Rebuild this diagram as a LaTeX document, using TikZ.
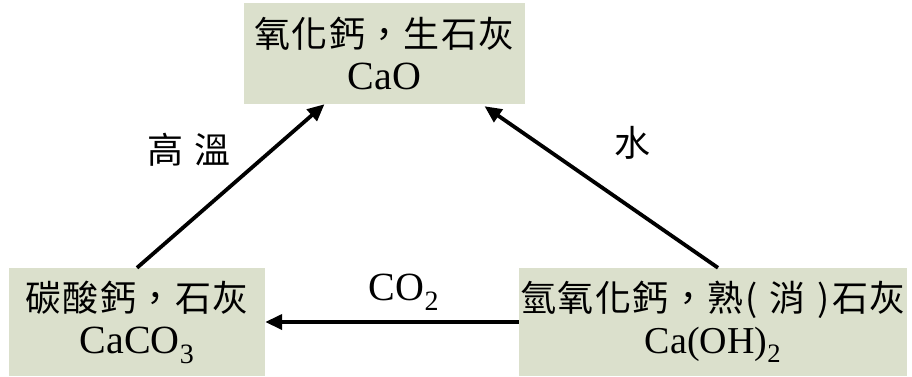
\documentclass[tikz,border=0pt]{standalone}
\usepackage{fontspec}
\setmainfont{Liberation Serif}
\newfontfamily\cjk[LetterSpace=4]{Noto Sans CJK TC}
\usetikzlibrary{arrows.meta,calc}
\definecolor{boxfill}{RGB}{219,224,204}
\newcommand{\lat}{\fontsize{40}{42}\selectfont}
\begin{document}
\begin{tikzpicture}[x=1pt,y=-1pt,
  box/.style={fill=boxfill, draw=none, inner sep=0pt, align=center,
    font=\fontsize{36}{42}\selectfont},
  arr/.style={line width=3.8pt, -{Triangle[length=17pt,width=15pt]}},
  lab/.style={inner sep=0pt, font=\fontsize{36}{42}\selectfont}]
\useasboundingbox (0,0) rectangle (912,376);
\node[box, minimum width=281pt, minimum height=101pt] (top) at (384.5,53.5)
  {{\cjk 氧化鈣，生石灰}\\{\lat CaO}};
\node[box, minimum width=256pt, minimum height=108pt] (left) at (137,322)
  {{\cjk 碳酸鈣，石灰}\\{\lat CaCO\textsubscript{3}}};
\node[box, minimum width=388pt, minimum height=108pt] (right) at (713,322)
  {{\cjk 氫氧化鈣，熟\hspace{2pt}(\hspace{12pt}消\hspace{12pt})\hspace{2pt}石灰}\\{\fontsize{38}{42}\selectfont Ca(OH)\textsubscript{2}}};
\draw[arr] (left.north) -- ($(top.south)+(-60,0)$);
\draw[arr] ($(right.north)+(5,0)$) -- ($(top.south)+(100,2)$);
\draw[arr] (right.west) -- (left.east);
\node[lab] (l1) at (189,150) {\cjk 高\hspace{12pt}溫};
\node[lab] (l2) at (632,143) {\cjk 水};
\node[lab] (l3) at (404,292) {\lat CO\textsubscript{2}};
\end{tikzpicture}
\end{document}
